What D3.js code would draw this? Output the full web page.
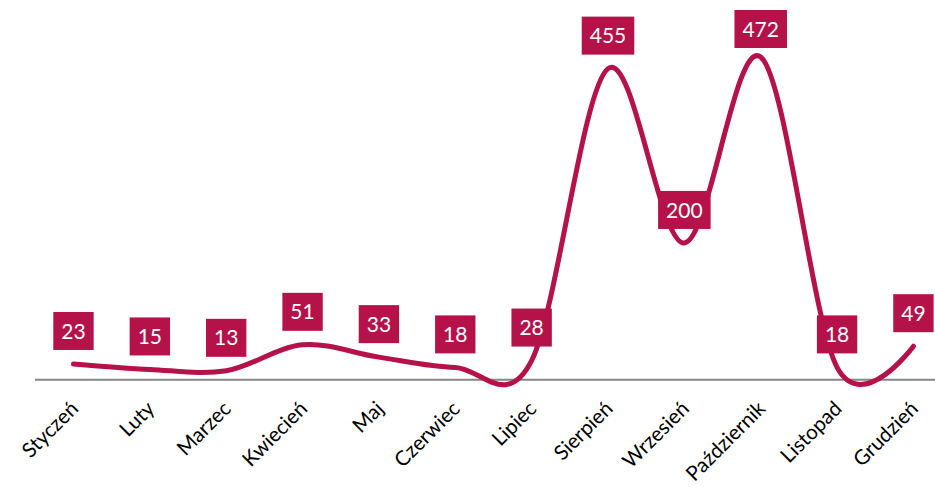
<!DOCTYPE html>
<html><head><meta charset="utf-8">
<script src="https://cdn.jsdelivr.net/npm/d3@7"></script>
<style>body{margin:0;background:#fff}svg{display:block}</style>
</head><body>
<svg id="c" width="935" height="487"></svg>
<script>
const categories = ["Styczeń","Luty","Marzec","Kwiecień","Maj","Czerwiec","Lipiec","Sierpień","Wrzesień","Październik","Listopad","Grudzień"];
const values = [23,15,13,51,33,18,28,455,200,472,18,49];
const yTicks = [0];

const W = 935, H = 487;
const color = "#B5124A";
const svg = d3.select("#c");
const x = d3.scaleBand().domain(categories).range([35.3, 35.3 + 76.36*12]);
const y = d3.scaleLinear().domain([0, 472]).range([379.7, 57]);
const cx = d => x(d) + x.bandwidth()/2;

// axis baseline
svg.append("line").attr("x1", 35).attr("x2", W).attr("y1", y(yTicks[0])).attr("y2", y(yTicks[0]))
  .attr("stroke", "#868686").attr("stroke-width", 2);

// category labels
svg.selectAll("text.cat").data(categories).join("text").attr("class","cat")
  .attr("transform", d => `translate(${cx(d)+6},${410}) rotate(-45)`)
  .attr("text-anchor","end")
  .attr("font-family","Lato, 'Open Sans', sans-serif")
  .attr("font-size", 20.5)
  .attr("fill","#000")
  .text(d => d);

// line
const line = d3.line().x((d,i) => cx(categories[i])).y(d => y(d)).curve(d3.curveCardinal.tension(0));
svg.append("path").attr("d", line(values)).attr("fill","none").attr("stroke", color)
  .attr("stroke-width", 5).attr("stroke-linecap","round").attr("stroke-linejoin","round");

// labels
const g = svg.selectAll("g.lab").data(values).join("g").attr("class","lab");
g.each(function(v,i){
  const gg = d3.select(this);
  const t = gg.append("text").attr("font-family","Lato, 'Open Sans', sans-serif").attr("font-size", 21)
    .attr("fill","#fff").attr("text-anchor","middle").text(v);
  const bw = t.node().getComputedTextLength() + 16;
  const bh = 38;
  let cy = y(v) - 33;
  if (cy - bh/2 < 10) cy = 10 + bh/2;
  const xc = cx(categories[i]);
  gg.insert("rect","text").attr("x", xc - bw/2).attr("y", cy - bh/2).attr("width", bw).attr("height", bh).attr("fill", color);
  t.attr("x", xc).attr("y", cy).attr("dy", "0.36em");
});
</script>
</body></html>
